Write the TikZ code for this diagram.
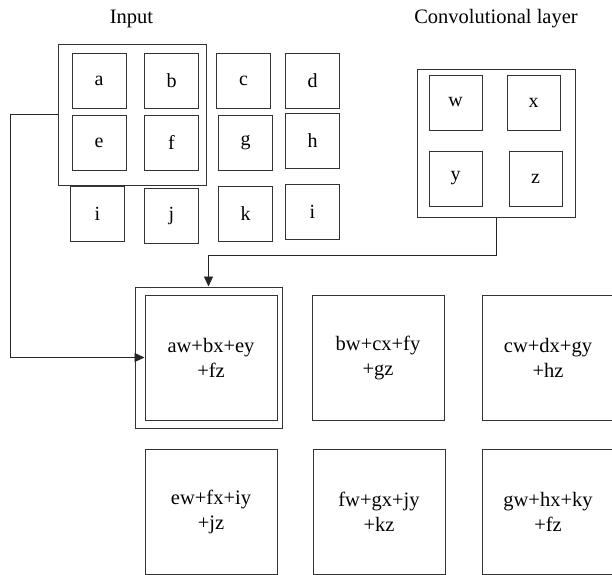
\documentclass[tikz,border=0pt]{standalone}
\usepackage{fontspec}
\setmainfont{Liberation Serif}
\usetikzlibrary{arrows.meta}
\begin{document}
\begin{tikzpicture}[x=1pt,y=-1pt,
  line width=1pt,
  cell/.style={draw=black!80, minimum width=54pt, minimum height=55pt, inner sep=0pt,
    font=\fontsize{20}{24}\selectfont},
  frame/.style={draw=black!80, inner sep=0pt},
  outbox/.style={draw=black!80, minimum width=132pt, minimum height=125pt, inner sep=0pt,
    align=center, font=\fontsize{20.5}{25}\selectfont},
  title/.style={font=\fontsize{20.5}{24}\selectfont},
  link/.style={draw=black!85, line width=0.9pt, -{Triangle[length=10pt,width=9pt]}}
]
\useasboundingbox (0,0) rectangle (612,574);
\clip (0,0) rectangle (612,574);

% titles
\node[title] (tin) at (131.5,19) {Input};
\node[title] (tconv) at (496,19) {Convolutional layer};

% input grid
\node[cell] (a) at (99,80.5) {a};
\node[cell] (b) at (171.5,80.5) {b};
\node[cell] (c) at (243.5,80.5) {c};
\node[cell] (d) at (312.5,80.5) {d};
\node[cell] (e) at (99,142.5) {e};
\node[cell] (f) at (171.5,142.5) {f};
\node[cell] (g) at (245.5,143) {g};
\node[cell] (h) at (312.5,141) {h};
\node[cell] (i) at (97.5,213.5) {i};
\node[cell] (j) at (171.5,215.5) {j};
\node[cell] (k) at (245.5,213.5) {k};
\node[cell] (i2) at (312.5,212) {i};
\node[frame, minimum width=148pt, minimum height=141pt] (inframe) at (132,114.5) {};

% kernel
\node[frame, minimum width=158pt, minimum height=148pt] (conv) at (496,143) {};
\node[cell, minimum width=53pt] (w) at (455.5,102.5) {w};
\node[cell, minimum width=53pt] (xk) at (533.5,102.5) {x};
\node[cell, minimum width=53pt] (yk) at (455.5,178.5) {y};
\node[cell, minimum width=53pt] (zk) at (535.5,178.5) {z};

% output feature map
\node[frame, minimum width=147pt, minimum height=141pt] (outer) at (208.5,357.5) {};
\node[outbox] (o1) at (211,357.5) {aw+bx+ey\\+fz};
\node[outbox] (o2) at (378,357.5) {bw+cx+fy\\+gz};
\node[outbox] (o3) at (548,357.5) {cw+dx+gy\\+hz};
\node[outbox] (o4) at (211,511.5) {ew+fx+iy\\+jz};
\node[outbox] (o5) at (379,511.5) {fw+gx+jy\\+kz};
\node[outbox] (o6) at (548,511.5) {gw+hx+ky\\+fz};

% connectors
\coordinate (lbend) at (10,114.5);
\draw[link] (inframe.west) -- (lbend) |- (o1.west);
\draw[link] (conv.south) -- ++(0,38) -| (outer.north);
\end{tikzpicture}
\end{document}
